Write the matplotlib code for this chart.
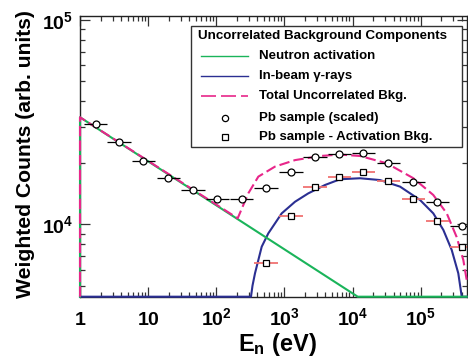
import numpy as np
import matplotlib
matplotlib.use("Agg")
import matplotlib.pyplot as plt
from matplotlib.lines import Line2D
from matplotlib.patches import Rectangle
import matplotlib.ticker as mticker

plt.rcParams['font.family'] = ['Liberation Sans', 'DejaVu Sans']
plt.rcParams['font.weight'] = 'bold'
plt.rcParams['mathtext.fontset'] = 'custom'
plt.rcParams['mathtext.rm'] = 'Liberation Sans:bold'
plt.rcParams['mathtext.bf'] = 'Liberation Sans:bold'
plt.rcParams['mathtext.it'] = 'Liberation Sans:bold:italic'

# ---------------- data ----------------
YMIN, YMAX = 4416, 104600
XMIN, XMAX = 1, 473000

# Pb sample (scaled) - circles
pb_x = [1.70, 3.73, 8.49, 19.8, 45.5, 103.5, 236, 537, 1250, 2810,
        6380, 14400, 33500, 77800, 175000, 400000]
pb_y = [30840, 25350, 20460, 16780, 14710, 13240, 13240, 15100, 18080, 21410,
        21990, 22400, 19870, 16150, 12890, 9800]

# Pb sample - activation bkg - squares
pbsub_x = [537, 1250, 2810, 6380, 14400, 33500, 77800, 175000, 400000]
pbsub_y = [6460, 10940, 15210, 17090, 18080, 16330, 13240, 10400, 7710]

bin_half_decades = 0.17

# Neutron activation (green)
act_x = [1, 1, 11900, 473000]
act_y = [4416, 33390, 4416, 4416]

# In-beam gamma rays (blue)
gam_x = [1, 323, 340, 370, 464, 580, 912, 1430, 2240, 3940, 6550, 12860,
         25300, 49700, 97700, 153000, 215000, 285000, 356000, 400000, 473000]
gam_y = [4416, 4416, 5000, 5750, 7760, 9020, 11300, 12880, 14160, 15560, 16600, 16790,
         16450, 15280, 13140, 11300, 9370, 7480, 5750, 4416, 4416]

# Total uncorrelated (magenta dashed)
tot_x = [1, 1, 206, 295, 414, 728, 1430, 3330, 6550, 12860, 31700, 77900,
         153000, 241000, 337000, 422000, 473000]
tot_y = [4416, 33390, 10690, 14160, 17100, 19150, 20600, 21580, 21930, 21580, 19880, 16800,
         13900, 11300, 8650, 6680, 5330]

xtick_vals = [1, 10, 1e2, 1e3, 1e4, 1e5]
xtick_labels = [r'$\mathbf{1}$', r'$\mathbf{10}$', r'$\mathbf{10^{2}}$', r'$\mathbf{10^{3}}$',
                r'$\mathbf{10^{4}}$', r'$\mathbf{10^{5}}$']
ytick_vals = [1e4, 1e5]
ytick_labels = [r'$\mathbf{10^{4}}$', r'$\mathbf{10^{5}}$']

legend_title = 'Uncorrelated Background Components'
legend_labels = ['Neutron activation', 'In-beam \u03b3-rays', 'Total Uncorrelated Bkg.',
                 'Pb sample (scaled)', 'Pb sample - Activation Bkg.']

GREEN = '#1ab45a'
BLUE = '#2b2f92'
MAGENTA = '#e8268a'
RED = '#f07272'

W, H = 468, 358
fig = plt.figure(figsize=(W / 100, H / 100), dpi=100)
L, R, T, B = 80, 466.7, 16, 296.7
ax = fig.add_axes([L / W, 1 - B / H, (R - L) / W, (B - T) / H])
ax.set_xscale('log')
ax.set_yscale('log')
ax.set_xlim(XMIN, XMAX)
ax.set_ylim(YMIN, YMAX)

ax.plot(gam_x, gam_y, color=BLUE, lw=1.5, zorder=3, clip_on=False)
ax.plot(act_x, act_y, color=GREEN, lw=1.5, zorder=3.2, clip_on=False)
ax.plot(tot_x, tot_y, color=MAGENTA, lw=1.5, zorder=3.4, dashes=(5, 2), clip_on=False)

f = 10 ** bin_half_decades
def xerr(xs):
    xs = np.asarray(xs, float)
    return np.vstack([xs - xs / f, xs * f - xs])

ax.errorbar(pb_x, pb_y, xerr=xerr(pb_x), fmt='o', ms=5, mfc='white', mec='black',
            mew=0.9, ecolor='black', elinewidth=0.9, capsize=0, zorder=5)
ax.errorbar(pbsub_x, pbsub_y, xerr=xerr(pbsub_x), fmt='s', ms=5, mfc='white', mec='black',
            mew=0.9, ecolor=RED, elinewidth=1.3, capsize=0, zorder=5)

# ticks
ax.set_xticks(xtick_vals, labels=xtick_labels)
ax.xaxis.set_minor_locator(mticker.LogLocator(base=10, subs=np.arange(2, 10), numticks=20))
ax.xaxis.set_minor_formatter(mticker.NullFormatter())
ax.set_yticks(ytick_vals, labels=ytick_labels)
ax.yaxis.set_minor_locator(mticker.LogLocator(base=10, subs=np.arange(2, 10), numticks=20))
ax.yaxis.set_minor_formatter(mticker.NullFormatter())
ax.tick_params(which='both', direction='in', top=True, right=True, width=0.9, color='#333333')
ax.tick_params(which='major', length=7)
ax.tick_params(which='minor', length=3.5)
ax.tick_params(axis='x', which='major', labelsize=14, pad=20.5)
ax.tick_params(axis='y', which='major', labelsize=14, pad=5)
for lab in ax.get_xticklabels():
    lab.set_verticalalignment('baseline')
for s in ax.spines.values():
    s.set_linewidth(1.0)
    s.set_color('#222222')

ax.set_ylabel('Weighted Counts (arb. units)', fontsize=15.2, fontweight='bold')
ax.yaxis.set_label_coords((26 - L) / (R - L), (B - 154) / (B - T))
ax.yaxis.label.set_verticalalignment('center')
ax.set_xlabel(r'E$_\mathbf{n}$ (eV)', fontsize=17, fontweight='bold')
ax.xaxis.set_label_coords((277 - L) / (R - L), -(351 - B) / (B - T))
ax.xaxis.label.set_verticalalignment('baseline')

# legend, drawn manually in figure pixel coordinates
def fx(px):
    return px / W
def fy(py):
    return 1 - py / H

fig.patches.append(Rectangle((fx(191), fy(146.7)), (462.3 - 191) / W, (146.7 - 25.7) / H,
                             transform=fig.transFigure, facecolor='white', edgecolor='#333333',
                             lw=1.0, zorder=10))
fig.text(fx(198), fy(35.5), legend_title, fontsize=9.6, fontweight='bold', va='center',
         ha='left', zorder=11)
rows = [56, 75.7, 95.7, 118, 136.7]
styles = [dict(color=GREEN, lw=1.0), dict(color=BLUE, lw=1.0),
          dict(color=MAGENTA, lw=1.2, dashes=(9, 3))]
for i, y in enumerate(rows):
    if i < 3:
        fig.add_artist(Line2D([fx(201), fx(248)], [fy(y), fy(y)], transform=fig.transFigure,
                              zorder=11, **styles[i]))
    else:
        fig.add_artist(Line2D([fx(225)], [fy(y)], transform=fig.transFigure, marker='o' if i == 3 else 's',
                              ms=4.5, mfc='white', mec='black', mew=0.9, zorder=11, ls='none'))
    fig.text(fx(259), fy(y), legend_labels[i], fontsize=9.5, fontweight='bold', va='center',
             ha='left', zorder=11)

fig.savefig('out.png', dpi=100)
